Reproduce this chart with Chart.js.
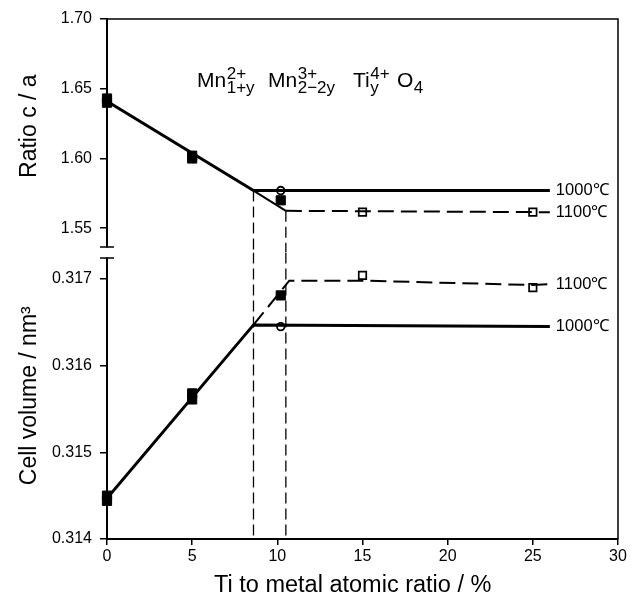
<!DOCTYPE html>
<html>
<head>
<meta charset="utf-8">
<script src="https://cdn.jsdelivr.net/npm/chart.js@4/dist/chart.umd.min.js"></script>
<style>
  html, body { margin: 0; padding: 0; background: #fff; }
  #wrap { width: 637px; height: 605px; }
</style>
</head>
<body>
<div id="wrap"><canvas id="chart" width="637" height="605"></canvas></div>
<script>
// x axis (Ti to metal atomic ratio, %)
var xTicks = [0, 5, 10, 15, 20, 25, 30];
var ratioTicks = [1.55, 1.60, 1.65, 1.70];
var volumeTicks = [0.314, 0.315, 0.316, 0.317];

// the two knees where the solid solution saturates
var kneeX = [8.6, 10.5];

// c/a ratio
var ratioFilledX = [0, 0, 5, 5, 10.2];
var ratioFilledY = [1.643, 1.640, 1.602, 1.600, 1.570];
var ratio1000LineX = [0, 8.6, 26];
var ratio1000LineY = [1.641, 1.577, 1.577];
var ratio1100LineX = [8.6, 10.5, 26];
var ratio1100LineY = [1.577, 1.5625, 1.5615];
var ratio1000OpenX = [10.2];
var ratio1000OpenY = [1.577];
var ratio1100OpenX = [15, 25];
var ratio1100OpenY = [1.5615, 1.5615];

// cell volume, nm3
var volFilledX = [0, 0, 5, 5, 10.2];
var volFilledY = [0.31450, 0.31444, 0.31568, 0.31561, 0.31681];
var vol1000LineX = [0, 8.6, 26];
var vol1000LineY = [0.31447, 0.31647, 0.31645];
var vol1100LineX = [8.6, 10.7, 15, 25, 26];
var vol1100LineY = [0.31647, 0.31698, 0.31698, 0.31693, 0.31694];
var vol1000OpenX = [10.2];
var vol1000OpenY = [0.31645];
var vol1100OpenX = [15, 25];
var vol1100OpenY = [0.31704, 0.31690];

var label1000 = '1000\u2103';
var label1100 = '1100\u2103';

var FONT = "'Liberation Sans', Arial, sans-serif";

function pts(xs, ys) {
	var out = [];
	for (var i = 0; i < xs.length; i++) out.push({x: xs[i], y: ys[i]});
	return out;
}

// scale ranges, slightly wider than the ticks so the break sits between them
var ratioMin = 1.5326, ratioMax = 1.70;
var volMin = 0.314, volMax = 0.317305;

var datasets = [
	// vertical guide lines through both panels
	{ data: [{x: kneeX[0], y: ratio1000LineY[1]}, {x: kneeX[0], y: ratioMin}], yAxisID: 'yRatio', showLine: true, borderColor: '#000', borderWidth: 1.3, borderDash: [11, 5], pointRadius: 0 },
	{ data: [{x: kneeX[1], y: ratio1100LineY[1]}, {x: kneeX[1], y: ratioMin}], yAxisID: 'yRatio', showLine: true, borderColor: '#000', borderWidth: 1.3, borderDash: [11, 5], pointRadius: 0 },
	{ data: [{x: kneeX[0], y: volMax}, {x: kneeX[0], y: volMin}], yAxisID: 'yVol', showLine: true, borderColor: '#000', borderWidth: 1.3, borderDash: [11, 5], pointRadius: 0 },
	{ data: [{x: kneeX[1], y: volMax}, {x: kneeX[1], y: volMin}], yAxisID: 'yVol', showLine: true, borderColor: '#000', borderWidth: 1.3, borderDash: [11, 5], pointRadius: 0 },

	// c/a lines
	{ data: pts(ratio1000LineX, ratio1000LineY), yAxisID: 'yRatio', showLine: true, borderColor: '#000', borderWidth: 3, pointRadius: 0 },
	{ data: pts(ratio1100LineX, ratio1100LineY), yAxisID: 'yRatio', showLine: true, borderColor: '#000', borderWidth: 2,
	  segment: { borderDash: function(ctx) { return ctx.p0DataIndex === 0 ? [] : [16, 7]; } }, pointRadius: 0 },
	// volume lines
	{ data: pts(vol1000LineX, vol1000LineY), yAxisID: 'yVol', showLine: true, borderColor: '#000', borderWidth: 3, pointRadius: 0 },
	{ data: pts(vol1100LineX, vol1100LineY), yAxisID: 'yVol', showLine: true, borderColor: '#000', borderWidth: 2, borderDash: [16, 7], pointRadius: 0 },

	// markers
	{ data: pts(ratioFilledX, ratioFilledY), yAxisID: 'yRatio', clip: false, pointStyle: 'rect', pointRadius: 6.5, backgroundColor: '#000', borderColor: '#000', borderWidth: 1 },
	{ data: pts(volFilledX, volFilledY), yAxisID: 'yVol', clip: false, pointStyle: 'rect', pointRadius: 6.5, backgroundColor: '#000', borderColor: '#000', borderWidth: 1 },
	{ data: pts(ratio1000OpenX, ratio1000OpenY), yAxisID: 'yRatio', clip: false, pointStyle: 'circle', pointRadius: 3.8, backgroundColor: '#fff', borderColor: '#000', borderWidth: 1.8 },
	{ data: pts(vol1000OpenX, vol1000OpenY), yAxisID: 'yVol', clip: false, pointStyle: 'circle', pointRadius: 3.8, backgroundColor: '#fff', borderColor: '#000', borderWidth: 1.8 },
	{ data: pts(ratio1100OpenX, ratio1100OpenY), yAxisID: 'yRatio', clip: false, pointStyle: 'rect', pointRadius: 5.3, backgroundColor: '#fff', borderColor: '#000', borderWidth: 1.7 },
	{ data: pts(vol1100OpenX, vol1100OpenY), yAxisID: 'yVol', clip: false, pointStyle: 'rect', pointRadius: 5.3, backgroundColor: '#fff', borderColor: '#000', borderWidth: 1.7 }
];

function keepTicks(list) {
	return function(scale) {
		scale.ticks = list.map(function(v) { return {value: v}; });
	};
}

// frame, axis break, end labels and the formula
var decorPlugin = {
	id: 'decor',
	afterDraw: function(chart) {
		var ctx = chart.ctx;
		var a = chart.chartArea;
		var xs = chart.scales.x, yr = chart.scales.yRatio, yv = chart.scales.yVol;
		ctx.save();
		ctx.strokeStyle = '#000';
		ctx.lineWidth = 1.5;
		ctx.beginPath();
		ctx.moveTo(a.left, a.top);
		ctx.lineTo(a.right, a.top);
		ctx.lineTo(a.right, a.bottom);
		ctx.stroke();

		// axis break
		var yb = yr.bottom;
		ctx.fillStyle = '#fff';
		ctx.fillRect(a.left - 2, yb - 5, 4, 10);
		ctx.lineWidth = 1.5;
		ctx.beginPath();
		ctx.moveTo(a.left - 7, yb - 5.5); ctx.lineTo(a.left + 7, yb - 5.5);
		ctx.moveTo(a.left - 7, yb + 5.5); ctx.lineTo(a.left + 7, yb + 5.5);
		ctx.stroke();

		// end labels
		ctx.fillStyle = '#000';
		ctx.font = '16.5px ' + FONT;
		ctx.textBaseline = 'middle';
		ctx.textAlign = 'left';
		var lx = xs.getPixelForValue(26) + 6;
		ctx.fillText(label1000, lx, yr.getPixelForValue(ratio1000LineY[2]));
		ctx.fillText(label1100, lx, yr.getPixelForValue(ratio1100LineY[2]));
		ctx.fillText(label1100, lx, yv.getPixelForValue(vol1100LineY[4]));
		ctx.fillText(label1000, lx, yv.getPixelForValue(vol1000LineY[2]));

		// formula
		var parts = [
			['Mn', '2+', '1+y', 197],
			['Mn', '3+', '2\u22122y', 268],
			['Ti', '4+', 'y', 353],
			['O', '', '4', 397]
		];
		var base = 87;
		ctx.textBaseline = 'alphabetic';
		for (var i = 0; i < parts.length; i++) {
			var x = parts[i][3];
			ctx.font = '21px ' + FONT;
			ctx.fillText(parts[i][0], x, base);
			x += ctx.measureText(parts[i][0]).width + 0.5;
			ctx.font = '17px ' + FONT;
			if (parts[i][1]) ctx.fillText(parts[i][1], x, base - 8);
			ctx.fillText(parts[i][2], x, base + 6);
		}
		ctx.restore();
	}
};

var chart = new Chart(document.getElementById('chart').getContext('2d'), {
	type: 'scatter',
	data: { datasets: datasets },
	plugins: [decorPlugin],
	options: {
		responsive: false,
		animation: false,
		layout: { padding: { top: 19, right: 19, left: 0, bottom: 0 } },
		plugins: { legend: { display: false }, tooltip: { enabled: false } },
		scales: {
			x: {
				type: 'linear', min: 0, max: 30,
				afterBuildTicks: keepTicks(xTicks),
				afterFit: function(s) { s.height = 66; },
				grid: { display: true, drawOnChartArea: false, drawTicks: true, tickLength: 6, color: '#000', lineWidth: 1.5 },
				border: { display: true, color: '#000', width: 2 },
				ticks: { color: '#000', font: { size: 16, family: FONT }, padding: 2 },
				title: { display: true, text: 'Ti to metal atomic ratio / %   ', color: '#000', font: { size: 23.5, family: FONT }, padding: { top: 0, bottom: 5 } }
			},
			yVol: {
				type: 'linear', position: 'left', stack: 'v', stackWeight: 286.5,
				min: volMin, max: volMax,
				afterBuildTicks: keepTicks(volumeTicks),
				afterFit: function(s) { s.width = 107; },
				grid: { display: true, drawOnChartArea: false, drawTicks: true, tickLength: 7, color: '#000', lineWidth: 1.5 },
				border: { display: true, color: '#000', width: 2 },
				ticks: { color: '#000', font: { size: 16, family: FONT }, padding: 8, callback: function(v) { return v.toFixed(3); } },
				title: { display: true, text: 'Cell volume / nm\u00b3', color: '#000', font: { size: 23, family: FONT }, padding: { top: 16, bottom: 0 } }
			},
			yRatio: {
				type: 'linear', position: 'left', stack: 'v', stackWeight: 233.5,
				min: ratioMin, max: ratioMax,
				afterBuildTicks: keepTicks(ratioTicks),
				afterFit: function(s) { s.width = 107; },
				grid: { display: true, drawOnChartArea: false, drawTicks: true, tickLength: 7, color: '#000', lineWidth: 1.5 },
				border: { display: true, color: '#000', width: 2 },
				ticks: { color: '#000', font: { size: 16, family: FONT }, padding: 8, callback: function(v) { return v.toFixed(2); } },
				title: { display: true, text: '   Ratio c / a', color: '#000', font: { size: 23, family: FONT }, padding: { top: 16, bottom: 0 } }
			}
		}
	}
});
</script>
</body>
</html>
